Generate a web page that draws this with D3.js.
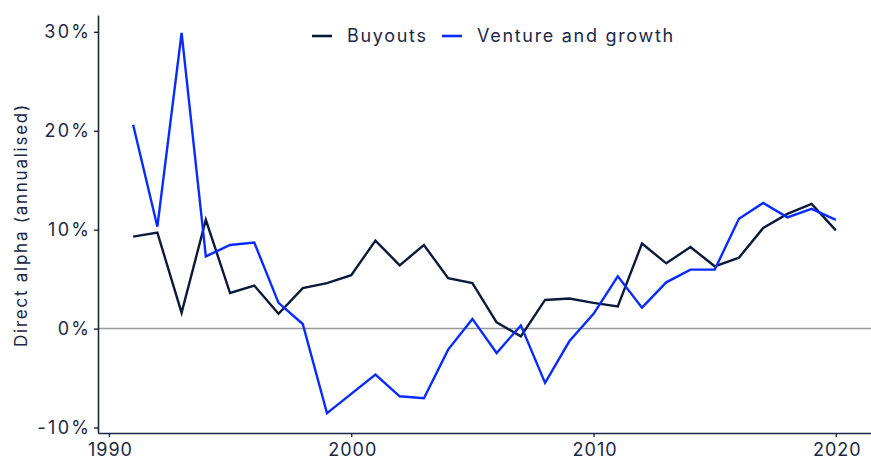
<!DOCTYPE html>
<html>
<head>
<meta charset="utf-8">
<script src="https://cdn.jsdelivr.net/npm/d3@7"></script>
<style>
  html, body { margin: 0; padding: 0; background: #fff; }
  svg { display: block; }
  text { font-family: Inter, "Noto Sans", sans-serif; fill: #1b2845; }
</style>
</head>
<body>
<div id="chart"></div>
<script>
const years = d3.range(1991, 2021);
const buyouts = [9.3, 9.7, 1.6, 11.0, 3.6, 4.35, 1.5, 4.1, 4.6, 5.4,
                 8.9, 6.4, 8.45, 5.1, 4.6, 0.64, -0.78, 2.9, 3.05, 2.6,
                 2.25, 8.6, 6.6, 8.25, 6.3, 7.17, 10.17, 11.6, 12.6, 9.93];
const venture = [20.6, 10.3, 29.9, 7.3, 8.45, 8.7, 2.6, 0.47, -8.55, -6.6,
                 -4.65, -6.84, -7.04, -2.12, 0.98, -2.46, 0.33, -5.49, -1.28, 1.5,
                 5.28, 2.12, 4.68, 5.96, 5.96, 11.1, 12.7, 11.25, 12.1, 11.0];
const xTicks = [1990, 2000, 2010, 2020];
const yTicks = [-10, 0, 10, 20, 30];
const seriesNames = ["Buyouts", "Venture and growth"];
const seriesColors = ["#0b1a3b", "#0a2bff"];

const W = 871, H = 459;
const mLeft = 98, mRight = 871, mTop = 15, mBottom = 433;

const svg = d3.select("#chart").append("svg").attr("width", W).attr("height", H);

const x = d3.scaleLinear().domain([1989.55, 2021.45]).range([mLeft, mRight]);
const y = d3.scaleLinear().domain([-10.55, 31.7]).range([mBottom, mTop]);

// zero line
svg.append("line")
  .attr("x1", mLeft).attr("x2", mRight)
  .attr("y1", y(0)).attr("y2", y(0))
  .attr("stroke", "#999").attr("stroke-width", 1.5);

// axes
const xAxis = svg.append("g").attr("transform", `translate(0,${mBottom})`)
  .call(d3.axisBottom(x).tickValues(xTicks).tickFormat(d3.format("d")).tickSize(4).tickSizeOuter(0));
const yAxis = svg.append("g").attr("transform", `translate(${mLeft},0)`)
  .call(d3.axisLeft(y).tickValues(yTicks).tickFormat(d => d + "%").tickSize(4).tickSizeOuter(0));

[xAxis, yAxis].forEach(g => {
  g.select(".domain").attr("stroke", "#1b2845").attr("stroke-width", 1.6);
  g.selectAll(".tick line").attr("stroke", "#1b2845").attr("stroke-width", 1.4);
  g.selectAll(".tick text").style("font-size", "18px").attr("fill", "#1b2845");
});
xAxis.selectAll(".tick text").attr("dy", "0.9em").attr("y", 7).attr("dx", 1)
  .style("letter-spacing", "1px");
yAxis.selectAll(".tick text").attr("x", -9).style("letter-spacing", "2.3px").attr("dx", 2.3);

// y title
svg.append("text")
  .attr("transform", `translate(27,${225}) rotate(-90)`)
  .attr("text-anchor", "middle")
  .style("font-size", "17px")
  .style("letter-spacing", "1.75px")
  .text("Direct alpha (annualised)");

// lines
const line = d3.line().x((d, i) => x(years[i])).y(d => y(d));
[buyouts, venture].forEach((s, k) => {
  svg.append("path").datum(s)
    .attr("d", line)
    .attr("fill", "none")
    .attr("stroke", seriesColors[k])
    .attr("stroke-width", 2.4)
    .attr("stroke-linejoin", "miter");
});

// legend
const legendItems = [
  { name: seriesNames[0], color: seriesColors[0], x: 312 },
  { name: seriesNames[1], color: seriesColors[1], x: 442 }
];
const lg = svg.append("g");
legendItems.forEach(it => {
  lg.append("line").attr("x1", it.x).attr("x2", it.x + 20)
    .attr("y1", 36).attr("y2", 36)
    .attr("stroke", it.color).attr("stroke-width", 2.6);
  lg.append("text").attr("x", it.x + 35).attr("y", 36).attr("dy", "0.35em")
    .style("font-size", "18px").style("letter-spacing", "1.7px").text(it.name);
});
</script>
</body>
</html>
